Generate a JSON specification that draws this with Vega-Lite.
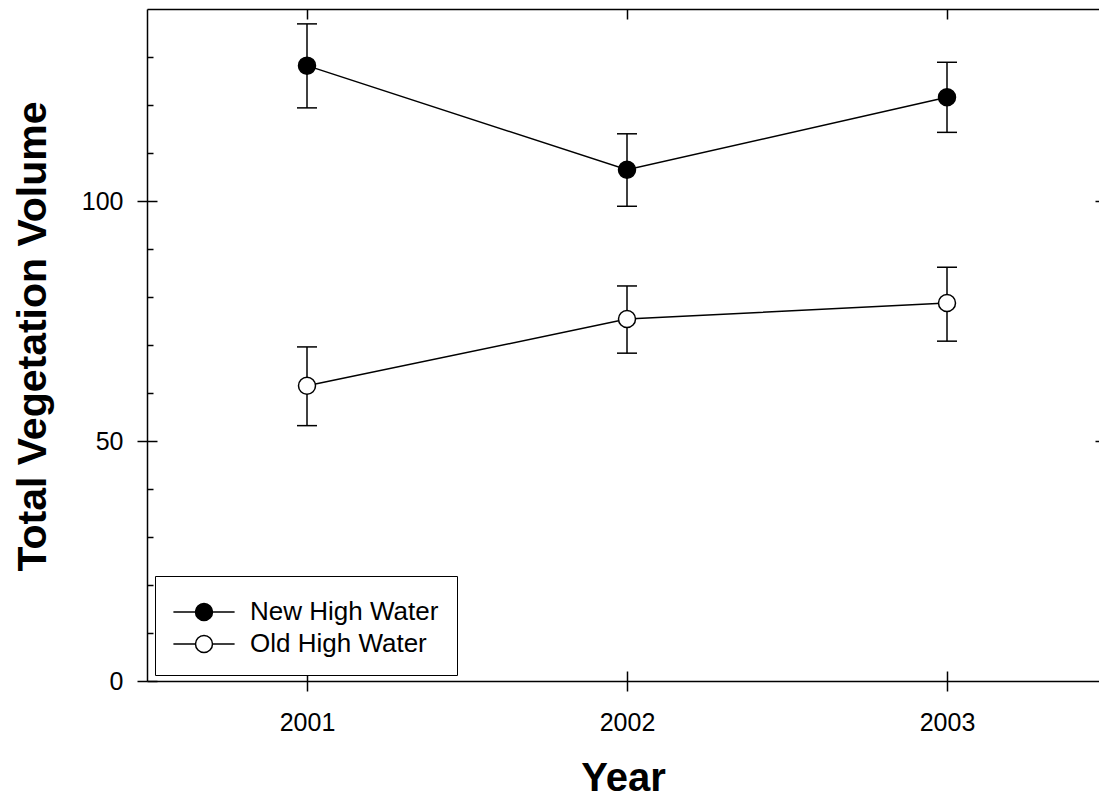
{
  "$schema": "https://vega.github.io/schema/vega-lite/v6.json",
  "autosize": {"type": "none"},
  "padding": {"left": 147, "top": 9, "right": 0, "bottom": 125},
  "width": 952,
  "height": 672,
  "background": "white",
  "config": {
    "view": {"stroke": null},
    "font": "Liberation Sans",
    "axis": {
      "domainColor": "black", "domainWidth": 1.5, "tickColor": "black", "tickWidth": 1.5,
      "labelColor": "black", "titleColor": "black", "grid": false,
      "labelFont": "Liberation Sans", "titleFont": "Liberation Sans"
    },
    "legend": {"labelFont": "Liberation Sans"}
  },
  "data": {
    "values": [
      {"series": "New High Water", "year": 2001, "mean": 128.2, "lo": 119.4, "hi": 136.9},
      {"series": "New High Water", "year": 2002, "mean": 106.5, "lo": 98.9, "hi": 114.0},
      {"series": "New High Water", "year": 2003, "mean": 121.6, "lo": 114.3, "hi": 128.9},
      {"series": "Old High Water", "year": 2001, "mean": 61.5, "lo": 53.2, "hi": 69.6},
      {"series": "Old High Water", "year": 2002, "mean": 75.4, "lo": 68.3, "hi": 82.3},
      {"series": "Old High Water", "year": 2003, "mean": 78.75, "lo": 70.8, "hi": 86.2}
    ]
  },
  "resolve": {"axis": {"x": "independent", "y": "independent"}},
  "layer": [
    {
      "mark": {"type": "rule", "color": "black", "strokeWidth": 1.5},
      "encoding": {
        "x": {"field": "year", "type": "quantitative",
          "scale": {"domain": [2000.5, 2003.475], "nice": false, "zero": false},
          "axis": {"orient": "bottom", "values": [2001, 2002, 2003], "format": "d", "tickSize": 10,
            "labelPadding": 19, "labelFontSize": 25, "title": "Year", "titleFontSize": 40,
            "titleFontWeight": "bold", "titleBaseline": "alphabetic", "titleY": 109, "titleAnchor": "middle"}},
        "y": {"field": "lo", "type": "quantitative",
          "scale": {"domain": [0, 140], "nice": false, "zero": true},
          "axis": {"orient": "left", "values": [0, 50, 100], "tickSize": 10, "labelPadding": 14,
            "labelFontSize": 25, "title": "Total Vegetation Volume", "titleFontSize": 41,
            "titleFontWeight": "bold", "titleBaseline": "alphabetic", "titleAngle": -90,
            "titleX": -102, "titleY": 327, "titleAnchor": "middle"}},
        "y2": {"field": "hi"}
      }
    },
    {
      "mark": {"type": "tick", "orient": "horizontal", "color": "black", "size": 20, "thickness": 1.5, "opacity": 1},
      "encoding": {
        "x": {"field": "year", "type": "quantitative",
          "axis": {"orient": "bottom", "values": [2001, 2002, 2003], "tickSize": -10, "labels": false, "domain": false, "title": null}},
        "y": {"field": "lo", "type": "quantitative",
          "axis": {"orient": "left", "values": [10, 20, 30, 40, 60, 70, 80, 90, 110, 120, 130], "tickSize": -6, "labels": false, "domain": false, "title": null}}
      }
    },
    {
      "mark": {"type": "tick", "orient": "horizontal", "color": "black", "size": 20, "thickness": 1.5, "opacity": 1},
      "encoding": {
        "x": {"field": "year", "type": "quantitative",
          "axis": {"orient": "top", "values": [2001, 2002, 2003], "tickSize": -10, "labels": false, "domain": true, "title": null}},
        "y": {"field": "hi", "type": "quantitative",
          "axis": {"orient": "left", "values": [0, 50, 100], "tickSize": -10, "labels": false, "domain": false, "title": null}}
      }
    },
    {
      "mark": {"type": "line", "color": "black", "strokeWidth": 1.5},
      "encoding": {
        "x": {"field": "year", "type": "quantitative", "axis": null},
        "y": {"field": "mean", "type": "quantitative",
          "axis": {"orient": "right", "values": [50, 100], "tickSize": -4, "labels": false, "domain": false, "title": null}},
        "detail": {"field": "series"}
      }
    },
    {
      "mark": {"type": "point", "shape": "circle", "filled": false, "stroke": "black", "strokeWidth": 1.5, "size": 289, "opacity": 1, "fillOpacity": 1},
      "encoding": {
        "x": {"field": "year", "type": "quantitative", "axis": null},
        "y": {"field": "mean", "type": "quantitative", "axis": null},
        "fill": {"field": "series", "type": "nominal",
          "scale": {"domain": ["New High Water", "Old High Water"], "range": ["black", "white"]},
          "legend": {
            "orient": "none", "legendX": 8, "legendY": 567, "title": null,
            "symbolType": "M-1.8,0H-0.5M0.5,0H1.8M-0.5,0A0.5,0.5,0,1,1,0.5,0A0.5,0.5,0,1,1,-0.5,0Z",
            "symbolSize": 1156, "symbolStrokeColor": "black", "symbolStrokeWidth": 1.5,
            "symbolOpacity": 1, "labelLimit": 500,
            "labelFontSize": 26, "labelColor": "black", "labelOffset": 28, "symbolOffset": 13,
            "padding": 18, "rowPadding": 1, "strokeColor": "black", "fillColor": "white"
          }}
      }
    }
  ]
}
